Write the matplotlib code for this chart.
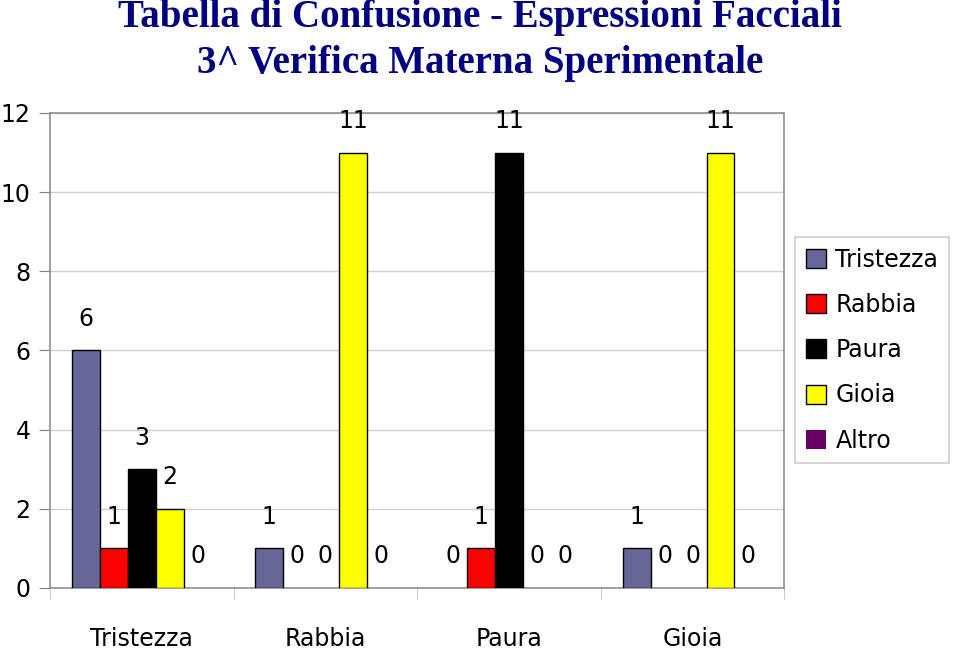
import matplotlib.pyplot as plt
import numpy as np

categories = ['Tristezza', 'Rabbia', 'Paura', 'Gioia']
series = ['Tristezza', 'Rabbia', 'Paura', 'Gioia', 'Altro']
values = {
    'Tristezza': [6, 1, 0, 1],
    'Rabbia':    [1, 0, 1, 0],
    'Paura':     [3, 0, 11, 0],
    'Gioia':     [2, 11, 0, 11],
    'Altro':     [0, 0, 0, 0],
}
colors = ['#666699', '#ff0000', '#000000', '#ffff00', '#660066']

fig = plt.figure(figsize=(9.6, 6.49), dpi=100)
ax = fig.add_axes([0.052, 0.094, 0.765, 0.732])

x = np.arange(len(categories)) + 0.5
w = 0.1524
for i, (name, col) in enumerate(zip(series, colors)):
    vals = values[name]
    pos = x + (i - 2) * w
    lws = [1.0 if v > 0 else 0 for v in vals]
    ax.bar(pos, vals, w, color=col, edgecolor='black', linewidth=lws,
           label=name, zorder=3)
    for p, v in zip(pos, vals):
        ax.text(p, v + 0.8, str(v), ha='center', va='center',
                fontsize=17, color='black', zorder=4)

ax.set_xlim(0, 4)
ax.set_ylim(0, 12)
ax.set_yticks(range(0, 13, 2))
ax.tick_params(axis='y', labelsize=17, length=8, color='#808080', pad=6)
ax.set_xticks(x)
ax.set_xticklabels(categories, fontsize=17)
ax.set_xticks(range(5), minor=True)
ax.tick_params(axis='x', which='major', length=0, pad=28)
ax.tick_params(axis='x', which='minor', length=8, color='#c0c0c0')
ax.grid(axis='y', color='#d0d0d0', linewidth=1, zorder=0)
for s in ax.spines.values():
    s.set_color('#909090')
    s.set_linewidth(1.2)

title_kw = dict(ha='center', va='baseline', fontsize=28, fontweight='bold',
                family='Liberation Serif', color='#000080')
fig.text(0.5, 1 - 27 / 649, 'Tabella di Confusione - Espressioni Facciali', **title_kw)
fig.text(0.5, 1 - 73 / 649, '3^ Verifica Materna Sperimentale', **title_kw)

leg = ax.legend(loc='upper left', bbox_to_anchor=(1.015, 0.739), fontsize=17,
                frameon=True, fancybox=False, edgecolor='#c0c0c0',
                handlelength=0.85, handleheight=0.85, labelspacing=0.9,
                handletextpad=0.4, borderpad=0.45, borderaxespad=0)
leg.get_frame().set_linewidth(1.2)

fig.savefig('out.png', dpi=100, facecolor='white')
